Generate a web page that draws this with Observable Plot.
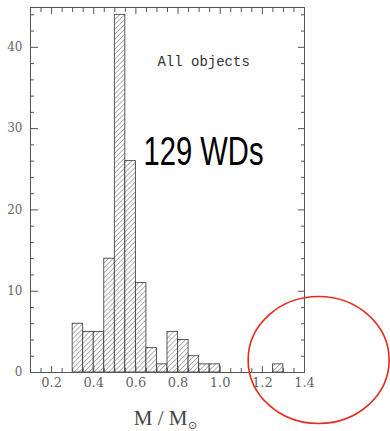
<!DOCTYPE html>
<html><head><meta charset="utf-8">
<script src="https://cdn.jsdelivr.net/npm/d3@7"></script>
<script src="https://cdn.jsdelivr.net/npm/@observablehq/plot@0.6"></script>
<style>html,body{margin:0;padding:0;background:#fff;} #chart svg{display:block;}</style>
</head><body><div id="chart"></div>
<script>
// Histogram of white dwarf masses (M / M_sun), 129 objects
const binLo  = [0.30,0.35,0.40,0.45,0.50,0.55,0.60,0.65,0.70,0.75,0.80,0.85,0.90,0.95,1.25];
const binHi  = [0.35,0.40,0.45,0.50,0.55,0.60,0.65,0.70,0.75,0.80,0.85,0.90,0.95,1.00,1.30];
const counts = [6,5,5,14,44,26,11,3,1,5,4,2,1,1,1];

const xTickLabels = [0.2,0.4,0.6,0.8,1.0,1.2,1.4];
const xMinorTicks = [0.15,0.25,0.3,0.35,0.45,0.5,0.55,0.65,0.7,0.75,0.85,0.9,0.95,1.05,1.1,1.15,1.25,1.3,1.35];
const yTickLabels = [0,10,20,30,40];
const yMinorTicks = [2,4,6,8,12,14,16,18,22,24,26,28,32,34,36,38,42,44];

const annotation = ["All objects"];
const countLabel = ["129 WDs"];
const highlightX = [1.467];
const highlightY = [1.54];

const bins = binLo.map((lo, i) => ({lo, hi: binHi[i], n: counts[i]}));

const ellipse = {
  draw(ctx) {
    const rx = 70.5, ry = 63.5, k = 0.5523;
    ctx.moveTo(rx, 0);
    ctx.bezierCurveTo(rx, ry * k, rx * k, ry, 0, ry);
    ctx.bezierCurveTo(-rx * k, ry, -rx, ry * k, -rx, 0);
    ctx.bezierCurveTo(-rx, -ry * k, -rx * k, -ry, 0, -ry);
    ctx.bezierCurveTo(rx * k, -ry, rx, -ry * k, rx, 0);
    ctx.closePath();
  }
};

const ts = "#555";
const chart = Plot.plot({
  width: 390,
  height: 431,
  marginLeft: 30,
  marginRight: 86,
  marginTop: 7,
  marginBottom: 59,
  style: {fontFamily: "DejaVu Serif", background: "#fff", overflow: "visible"},
  x: {domain: [0.1, 1.4], label: null, axis: null},
  y: {domain: [0, 44.9], label: null, axis: null},
  marks: [
    Plot.rectY(bins, {x1: "lo", x2: "hi", y: "n", fill: "url(#hatch)", stroke: "#333", strokeWidth: 0.8}),
    Plot.frame({stroke: "#555", strokeWidth: 1}),
    // inward ticks (drawn outward, then shifted inside the frame)
    Plot.axisY(yMinorTicks, {anchor: "left", tickSize: 4, dx: 4, fill: "none", stroke: ts, label: null}),
    Plot.axisY(yTickLabels, {anchor: "left", tickSize: 8, dx: 8, fill: "none", stroke: ts, label: null}),
    Plot.axisY(yMinorTicks, {anchor: "right", tickSize: 4, dx: -4, fill: "none", stroke: ts, label: null}),
    Plot.axisY(yTickLabels, {anchor: "right", tickSize: 7, dx: -7, fill: "none", stroke: ts, label: null}),
    Plot.axisX(xMinorTicks, {anchor: "bottom", tickSize: 4, dy: -4, fill: "none", stroke: ts, label: null}),
    Plot.axisX(xTickLabels, {anchor: "bottom", tickSize: 6, dy: -6, fill: "none", stroke: ts, label: null}),
    Plot.axisX(xMinorTicks, {anchor: "top", tickSize: 4, dy: 4, fill: "none", stroke: ts, label: null}),
    Plot.axisX(xTickLabels, {anchor: "top", tickSize: 6, dy: 6, fill: "none", stroke: ts, label: null}),
    // tick labels
    Plot.axisY(yTickLabels, {anchor: "left", tickSize: 0, tickPadding: 8, fill: "#666", fontSize: 12, label: null}),
    Plot.axisX(xTickLabels, {anchor: "bottom", tickSize: 0, tickPadding: 5, fill: "#666", fontSize: 13, label: null, tickFormat: d3.format(".1f")}),
    // axis title M / M_sun
    Plot.text(["M / M"], {frameAnchor: "bottom", x: [0.845], text: d => d, textAnchor: "end", lineAnchor: "middle", dy: 46, fontSize: 21, fontFamily: "Liberation Serif", fill: "#444"}),
    Plot.text(["⊙"], {frameAnchor: "bottom", x: [0.847], text: d => d, textAnchor: "start", lineAnchor: "middle", dy: 53, fontSize: 11, fontFamily: "DejaVu Sans", fill: "#444"}),
    // annotations
    Plot.text(annotation, {x: [0.702], y: [38.3], text: d => d, textAnchor: "start", lineAnchor: "middle", fontSize: 14, fontFamily: "Liberation Mono", fill: "#333"}),
    Plot.text(countLabel, {x: [0.636], y: [27.1], text: d => d, textAnchor: "start", lineAnchor: "middle", fontSize: 40, fontFamily: "Liberation Sans", fill: "#000"}),
    Plot.dot(highlightX, {x: d => d, y: (d, i) => highlightY[i], symbol: ellipse, r: 10, fill: "none", stroke: "#e8291c", strokeWidth: 1.6})
  ]
});

chart.insertAdjacentHTML("afterbegin",
  `<defs><pattern id="hatch" patternUnits="userSpaceOnUse" width="3.5" height="3.5" patternTransform="rotate(45)">
     <rect width="3.5" height="3.5" fill="#fff"/>
     <line x1="0" y1="0" x2="0" y2="3.5" stroke="#666" stroke-width="1"/>
   </pattern></defs>`);
for (const t of chart.querySelectorAll("text")) {
  if (t.textContent === "129 WDs") {
    t.setAttribute("textLength", 120);
    t.setAttribute("lengthAdjust", "spacingAndGlyphs");
  }
}
document.getElementById("chart").appendChild(chart);
</script>
</body></html>
